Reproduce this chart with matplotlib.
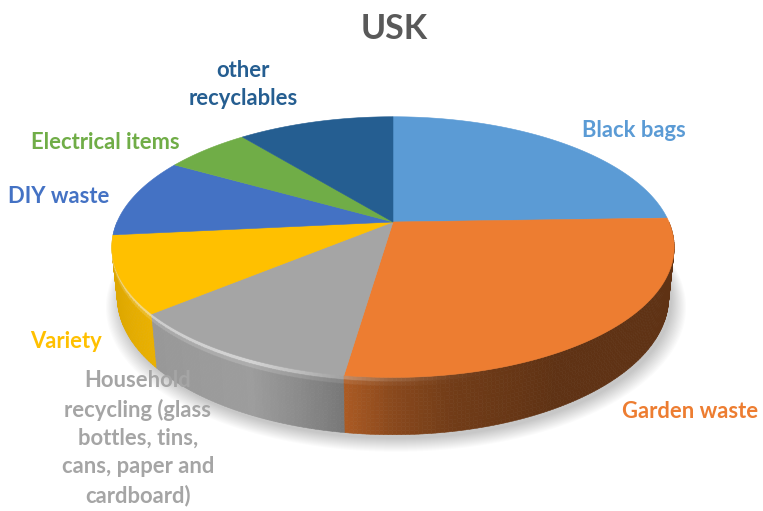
import numpy as np
import matplotlib
matplotlib.use("Agg")
import matplotlib.pyplot as plt
from matplotlib.patches import Polygon
from matplotlib.collections import PolyCollection
from matplotlib.colors import to_rgb

# ---- data -------------------------------------------------------------
categories = [
    "Black bags",
    "Garden waste",
    "Household recycling (glass bottles, tins, cans, paper and cardboard)",
    "Variety",
    "DIY waste",
    "Electrical items",
    "other recyclables",
]
label_text = [
    "Black bags",
    "Garden waste",
    "Household\nrecycling (glass\nbottles, tins,\ncans, paper and\ncardboard)",
    "Variety",
    "DIY waste",
    "Electrical items",
    "other\nrecyclables",
]
shares = [24.5, 27.8, 11.6, 9.5, 9.9, 5.9, 10.8]
colors = ["#5B9BD5", "#ED7D31", "#A5A5A5", "#FFC000", "#4472C4", "#70AD47", "#255E91"]
title = "USK"

# ---- layout -----------------------------------------------------------
W, H = 763, 511
# (x centre, baseline of the last line) for each label
label_pos = [(634, 137), (690, 418), (138, 502), (66, 348), (59, 203), (105, 149), (243, 105)]

CX, CY = 393, 222          # projected pie centre (pixels)
TILT = np.radians(26.5)     # camera elevation
DIST = 4.65                 # camera distance (pie radius = 1)
FOCAL = 1308.0              # focal length in pixels
XSCALE = 0.981              # horizontal pixel aspect
DEPTH = 0.20                # thickness of the pie

cos_t, sin_t = np.cos(TILT), np.sin(TILT)


def project(u, v, z):
    d = DIST - (v * cos_t + z * sin_t)
    X = XSCALE * FOCAL * u / d
    Y = FOCAL * (-v * sin_t + z * cos_t) / d
    return CX + X, CY - Y


def ring(phi_deg, z=0.0):
    p = np.radians(phi_deg)
    return project(np.sin(p), -np.cos(p), z)


# side lighting as a function of the outward direction (deg clockwise from back)
light_ang = [90, 150, 170, 180, 188, 196, 205, 230, 250, 275]
light_val = [0.40, 0.40, 0.48, 0.58, 0.72, 0.84, 0.95, 0.92, 0.87, 0.88]

fig = plt.figure(figsize=(W / 100, H / 100), dpi=100)
ax = fig.add_axes([0, 0, 1, 1])
ax.set_xlim(0, W)
ax.set_ylim(H, 0)
ax.axis("off")

total = float(sum(shares))
bounds = np.concatenate([[0.0], np.cumsum(shares) / total * 360.0])

# soft drop shadow under the disc
full = np.linspace(0, 360, 361)
bx, by = ring(full, -DEPTH)
mx, my = bx.mean(), by.mean()
for k in range(14):
    sc = 1.0 + 0.004 * k
    ax.add_patch(Polygon(np.column_stack([mx + (bx - mx) * sc + 3, my + (by - my) * sc + 4 + 0.4 * k]),
                         closed=True, facecolor="black", edgecolor="none", alpha=0.016, zorder=1))

# side wall, split into small quads drawn back to front
n_layers = 14
t_edges = np.linspace(0, 1, n_layers + 1)
quads, qcols, qkeys = [], [], []
for i, (a, b) in enumerate(zip(bounds[:-1], bounds[1:])):
    lo, hi = max(a, 90.0), min(b, 270.0)
    if hi <= lo:
        continue
    steps = max(2, int(np.ceil((hi - lo) / 0.75)))
    angs = np.linspace(lo, hi, steps + 1)
    base = np.array(to_rgb(colors[i]))
    for p0, p1 in zip(angs[:-1], angs[1:]):
        pm = 0.5 * (p0 + p1)
        lum = np.interp(pm, light_ang, light_val)
        shade = base * lum
        for t0, t1 in zip(t_edges[:-1], t_edges[1:]):
            tm = 0.5 * (t0 + t1)
            glow = 0.6 * np.exp(-((tm - 0.05) / 0.05) ** 2) * max(lum - 0.45, 0) / 0.5
            col = shade + (1 - shade) * glow
            x00, y00 = ring(p0, -DEPTH * t0)
            x10, y10 = ring(p1, -DEPTH * t0)
            x11, y11 = ring(p1, -DEPTH * t1)
            x01, y01 = ring(p0, -DEPTH * t1)
            quads.append([(x00, y00), (x10, y10), (x11, y11), (x01, y01)])
            qcols.append(np.clip(col, 0, 1))
            qkeys.append(-np.cos(np.radians(pm)))
order = np.argsort(qkeys, kind="stable")
pc = PolyCollection([quads[j] for j in order], facecolors=[qcols[j] for j in order],
                    edgecolors=[qcols[j] for j in order], linewidths=0.4, zorder=2)
ax.add_collection(pc)

# top face wedges
for i, (a, b) in enumerate(zip(bounds[:-1], bounds[1:])):
    angs = np.linspace(a, b, max(3, int((b - a) * 2)))
    ax_, ay_ = ring(angs, 0.0)
    pts = np.column_stack([np.concatenate([[CX], ax_]), np.concatenate([[CY], ay_])])
    ax.add_patch(Polygon(pts, closed=True, facecolor=colors[i], edgecolor=colors[i],
                         linewidth=0.4, zorder=3))

# labels
font = ["Lato", "DejaVu Sans"]
for i, txt in enumerate(label_text):
    x, y = label_pos[i]
    ax.text(x, y, txt, ha="center", va="baseline", fontsize=15.8, fontweight="bold",
            color=colors[i], family=font, linespacing=1.42, zorder=6,
            multialignment="center")

ax.text(394, 39, title, ha="center", va="baseline", fontsize=24.5, fontweight="bold",
        color="#595959", family=font, zorder=6)

fig.savefig("out.png", dpi=100)
